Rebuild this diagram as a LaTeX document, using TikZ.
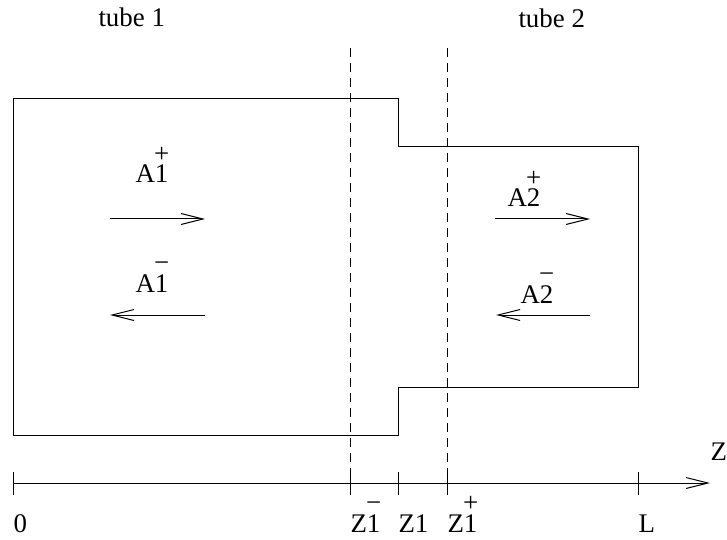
\documentclass[tikz,border=0pt]{standalone}
\usepackage{fontspec}
\setmainfont{Liberation Serif}
\newfontfamily\figfont{Liberation Serif}
\usetikzlibrary{arrows.meta}
\newcommand{\upsign}[2]{\ooalign{#1\cr\hidewidth\raisebox{0.78em}{#2}\hidewidth\cr}}

\begin{document}
\begin{tikzpicture}[x=1bp, y=-1bp, line width=1bp,
    txt/.style={inner sep=0pt, anchor=base west, font=\figfont\fontsize{27}{30}\selectfont},
    cut/.style={dash pattern=on 9bp off 6bp},
    flow/.style={-{Straight Barb[length=22bp,width=11bp]}}]
  \useasboundingbox (0,0) rectangle (727,540);
  % points of the two tubes
  \coordinate (P1) at (13,99);   \coordinate (P2) at (398,99);
  \coordinate (P3) at (398,147); \coordinate (P4) at (638,147);
  \coordinate (P5) at (638,387); \coordinate (P6) at (398,387);
  \coordinate (P7) at (398,435); \coordinate (P8) at (13,435);
  \draw (P1) -- (P2) -- (P3) -- (P4) -- (P5) -- (P6) -- (P7) -- (P8) -- cycle;
  % axis
  \coordinate (O) at (13,483);   \coordinate (Zm) at (350,483);
  \coordinate (Zs) at (398,483); \coordinate (Zp) at (447,483);
  \coordinate (L) at (638,483);  \coordinate (E) at (710,483);
  \draw[flow] (O) -- (E);
  \foreach \p in {O,Zm,Zs,Zp,L}
    \draw ([yshift=11bp]\p) -- ([yshift=-12bp]\p);
  \coordinate (Dm) at (350,48); \coordinate (Dp) at (447,48);
  \draw[cut] (Dm) -- ([yshift=-12bp]Zm);
  \draw[cut] (Dp) -- ([yshift=-12bp]Zp);
  % waves
  \coordinate (a1) at (110,219); \coordinate (b1) at (205,219);
  \coordinate (c1) at (110,315); \coordinate (d1) at (205,315);
  \coordinate (a2) at (495,219); \coordinate (b2) at (590,219);
  \coordinate (c2) at (496,315); \coordinate (d2) at (590,315);
  \draw[flow] (a1) -- (b1);
  \draw[flow] (d1) -- (c1);
  \draw[flow] (a2) -- (b2);
  \draw[flow] (d2) -- (c2);
  % labels
  \node[txt] (tube1) at (98,27) {tube 1};
  \node[txt] (tube2) at (518,28) {tube 2};
  \node[txt] (A1p) at (135,183) {A\upsign{1}{+}};
  \node[txt] (A1m) at (135,292) {A\upsign{1}{−}};
  \node[txt] (A2p) at (507,207) {A\upsign{2}{+}};
  \node[txt] (A2m) at (520,303) {A\upsign{2}{−}};
  \node[txt] (l0) at (13,532) {0};
  \node[txt] (lzm) at (350,532) {Z\upsign{1}{−}};
  \node[txt] (lzs) at (398,532) {Z1};
  \node[txt] (lzp) at (447,532) {Z\upsign{1}{+}};
  \node[txt] (lL) at (638,532) {L};
  \node[txt] (lZ) at (710,460) {Z};
\end{tikzpicture}
\end{document}
